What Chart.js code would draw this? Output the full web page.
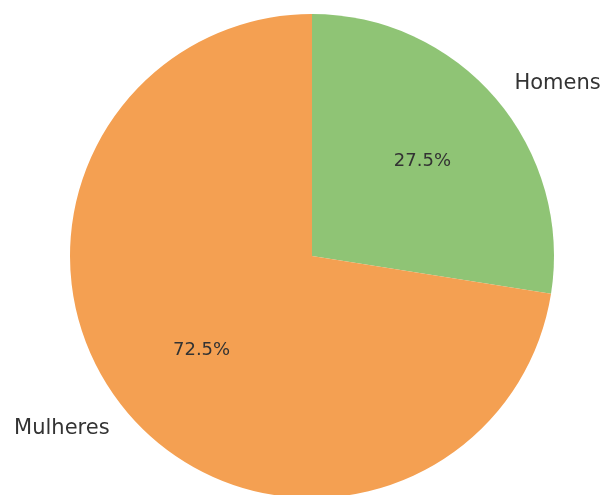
<!DOCTYPE html>
<html>
<head>
<meta charset="utf-8">
<script src="https://cdn.jsdelivr.net/npm/chart.js@4/dist/chart.umd.min.js"></script>
<style>
  html, body { margin: 0; padding: 0; background: #fff; overflow: hidden; }
  #wrap { width: 603px; height: 498px; }
</style>
</head>
<body>
<div id="wrap"><canvas id="myChart"></canvas></div>
<script>
const labels = ['Homens', 'Mulheres'];
const values = [27.5, 72.5];
const colors = ['#8fc475', '#f4a052'];

// draws the outside labels and the percentages, like matplotlib's pie
const pieLabels = {
    id: 'pieLabels',
    afterDatasetsDraw(chart) {
        const ctx = chart.ctx;
        const meta = chart.getDatasetMeta(0);
        const total = values.reduce((a, b) => a + b, 0);
        ctx.save();
        ctx.fillStyle = '#333333';
        ctx.textBaseline = 'middle';
        meta.data.forEach((arc, i) => {
            const p = arc.getProps(['x', 'y', 'startAngle', 'endAngle', 'outerRadius'], true);
            const mid = (p.startAngle + p.endAngle) / 2;
            const cos = Math.cos(mid), sin = Math.sin(mid);
            // percentage at 0.6 radius
            ctx.font = '18px "DejaVu Sans"';
            ctx.textAlign = 'center';
            const pct = (values[i] / total * 100).toFixed(1) + '%';
            ctx.fillText(pct, p.x + cos * p.outerRadius * 0.6, p.y + sin * p.outerRadius * 0.6);
            // category label at 1.1 radius
            ctx.font = '21px "DejaVu Sans"';
            ctx.textAlign = cos >= 0 ? 'left' : 'right';
            ctx.fillText(labels[i], p.x + cos * p.outerRadius * 1.1, p.y + sin * p.outerRadius * 1.1);
        });
        ctx.restore();
    }
};

var ctx = document.getElementById('myChart').getContext('2d');
var myChart = new Chart(ctx, {
    type: 'pie',
    data: {
        labels: labels,
        datasets: [{
            data: values,
            backgroundColor: colors,
            borderWidth: 0
        }]
    },
    options: {
        responsive: true,
        maintainAspectRatio: false,
        animation: false,
        layout: {
            padding: { left: 21, right: 0, top: 14, bottom: 0 }
        },
        plugins: {
            legend: { display: false },
            tooltip: { enabled: false }
        }
    },
    plugins: [pieLabels]
});
</script>
</body>
</html>
